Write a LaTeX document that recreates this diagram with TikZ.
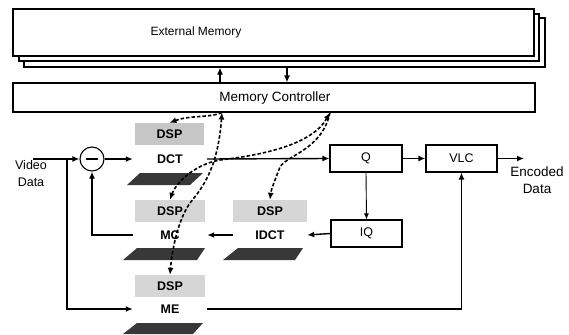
\documentclass[tikz,border=0pt]{standalone}
\usepackage{fontspec}
\setmainfont{Liberation Sans}
\usetikzlibrary{arrows.meta}
\begin{document}
\begin{tikzpicture}[x=1pt,y=-1pt,
  box/.style={draw,line width=1.1pt,fill=white,inner sep=0pt},
  conn/.style={line width=1.4pt,-{Latex[length=7pt,width=6pt]}},
  thinconn/.style={line width=0.9pt,-{Latex[length=6pt,width=5pt]}},
  dconn/.style={line width=1.6pt,dash pattern=on 3.5pt off 2pt,-{Latex[length=7pt,width=6pt]}},
  lbl/.style={font=\fontsize{12}{16}\selectfont,inner sep=0pt},
  blbl/.style={font=\bfseries\fontsize{12.5}{14}\selectfont,inner sep=0pt,minimum width=74pt,minimum height=12pt},
  dsp/.style={fill=gray!32,inner sep=0pt,font=\bfseries\fontsize{12.5}{14}\selectfont},
  para/.style={fill=black!78}
]
\useasboundingbox (0,0) rectangle (569,334);
% External memory stack
\node[box,minimum width=521pt,minimum height=49pt] (extmem3) at (284.5,42.5) {};
\node[box,minimum width=520pt,minimum height=47pt] (extmem2) at (279,37.5) {};
\node[box,minimum width=521pt,minimum height=47pt] (extmem) at (273.5,32.5) {};
\node[lbl] (extmemtxt) at (196,32) {External Memory};
% Memory controller
\node[box,minimum width=522pt,minimum height=29pt] (memctrl) at (274,97.5) {};
\node[lbl,font=\fontsize{13.5}{16}\selectfont] (memctrltxt) at (275,98) {Memory Controller};
\draw[conn,line width=1.8pt] (memctrl.north -| 220,0) -- (extmem3.south -| 220,0);
\draw[conn,line width=1.8pt] (extmem3.south -| 287,0) -- (memctrl.north -| 287,0);
% Input
\node[lbl,align=center,font=\fontsize{12.5}{17}\selectfont] (video) at (31,173.5) {Video\\Data};
\coordinate (vin) at (33,159);
\node[draw,circle,line width=1.1pt,minimum size=24pt,inner sep=0pt] (sub) at (92,159) {};
\draw[line width=1.3pt] (86,159) -- (98,159);
\coordinate (j1) at (67,159);
% DSP units
\node[dsp,fill=gray!45,minimum width=69pt,minimum height=22pt] (dctdsp) at (169.5,134) {DSP};
\fill[para] (140,173) -- (203,173) -- (190,185) -- (127,185) -- cycle;
\node[blbl] (dct) at (170,159) {DCT};
\node[dsp,minimum width=70pt,minimum height=22pt] (mcdsp) at (170,211) {DSP};
\fill[para] (137,248) -- (205,248) -- (197,260) -- (123,260) -- cycle;
\node[blbl] (mc) at (170,235) {MC};
\node[dsp,minimum width=74pt,minimum height=22pt] (idctdsp) at (270,211) {DSP};
\fill[para] (238,248) -- (303,248) -- (295,260) -- (223,260) -- cycle;
\node[blbl] (idct) at (270,235) {IDCT};
\node[dsp,minimum width=70pt,minimum height=22pt] (medsp) at (170,286) {DSP};
\fill[para] (137,323) -- (203,323) -- (193,334) -- (123,334) -- cycle;
\node[blbl] (me) at (170,309) {ME};
% Boxes
\node[box,minimum width=72pt,minimum height=27pt,font=\fontsize{12.5}{14}\selectfont] (q) at (366,158.5) {Q};
\node[box,minimum width=71pt,minimum height=27pt,font=\fontsize{12.5}{14}\selectfont] (vlc) at (461.5,158.5) {VLC};
\node[box,minimum width=71pt,minimum height=27pt,font=\fontsize{12.5}{14}\selectfont] (iq) at (366.5,233.5) {IQ};
\node[lbl,align=center,font=\fontsize{13.5}{17}\selectfont] (enc) at (537,180) {Encoded\\Data};
\coordinate (out) at (524,158.5);
% Solid connectors
\draw[conn] (vin) -- (sub.west);
\draw[conn] (sub.east) -- (dct.west);
\draw[conn] (dct.east) -- (q.west);
\draw[conn] (q.east) -- (vlc.west);
\draw[conn] (vlc.east) -- (out);
\draw[thinconn] (q.south) -- (iq.north);
\draw[conn] (iq.west) -- (idct.east);
\draw[conn] (idct.west) -- (mc.east);
\draw[conn] (mc.west) -| (sub.south);
\draw[conn] (j1) |- (me.west);
\draw[conn,line width=1.7pt] (me.east) -| (vlc.south);
% Dashed memory traffic
\coordinate (mL) at (memctrl.south -| 222,0);
\coordinate (mR) at (memctrl.south -| 330,0);
\draw[dconn] (mL) .. controls (210,118) and (190,115) .. (dctdsp.north);
\draw[dconn,{Latex[length=7pt,width=6pt]}-{Latex[length=7pt,width=6pt]}] (mL) .. controls (218,165) and (205,185) .. (190,203) .. controls (178,220) and (172,250) .. (medsp.north);
\draw[dconn,{Latex[length=7pt,width=6pt]}-{Latex[length=7pt,width=6pt]}] (mR) .. controls (312,145) and (262,155) .. (220,160) .. controls (192,165) and (175,185) .. (mcdsp.north);
\draw[dconn] (mR) .. controls (322,150) and (287,155) .. (280,167) .. controls (275,180) and (271,190) .. (idctdsp.north);
\end{tikzpicture}
\end{document}
